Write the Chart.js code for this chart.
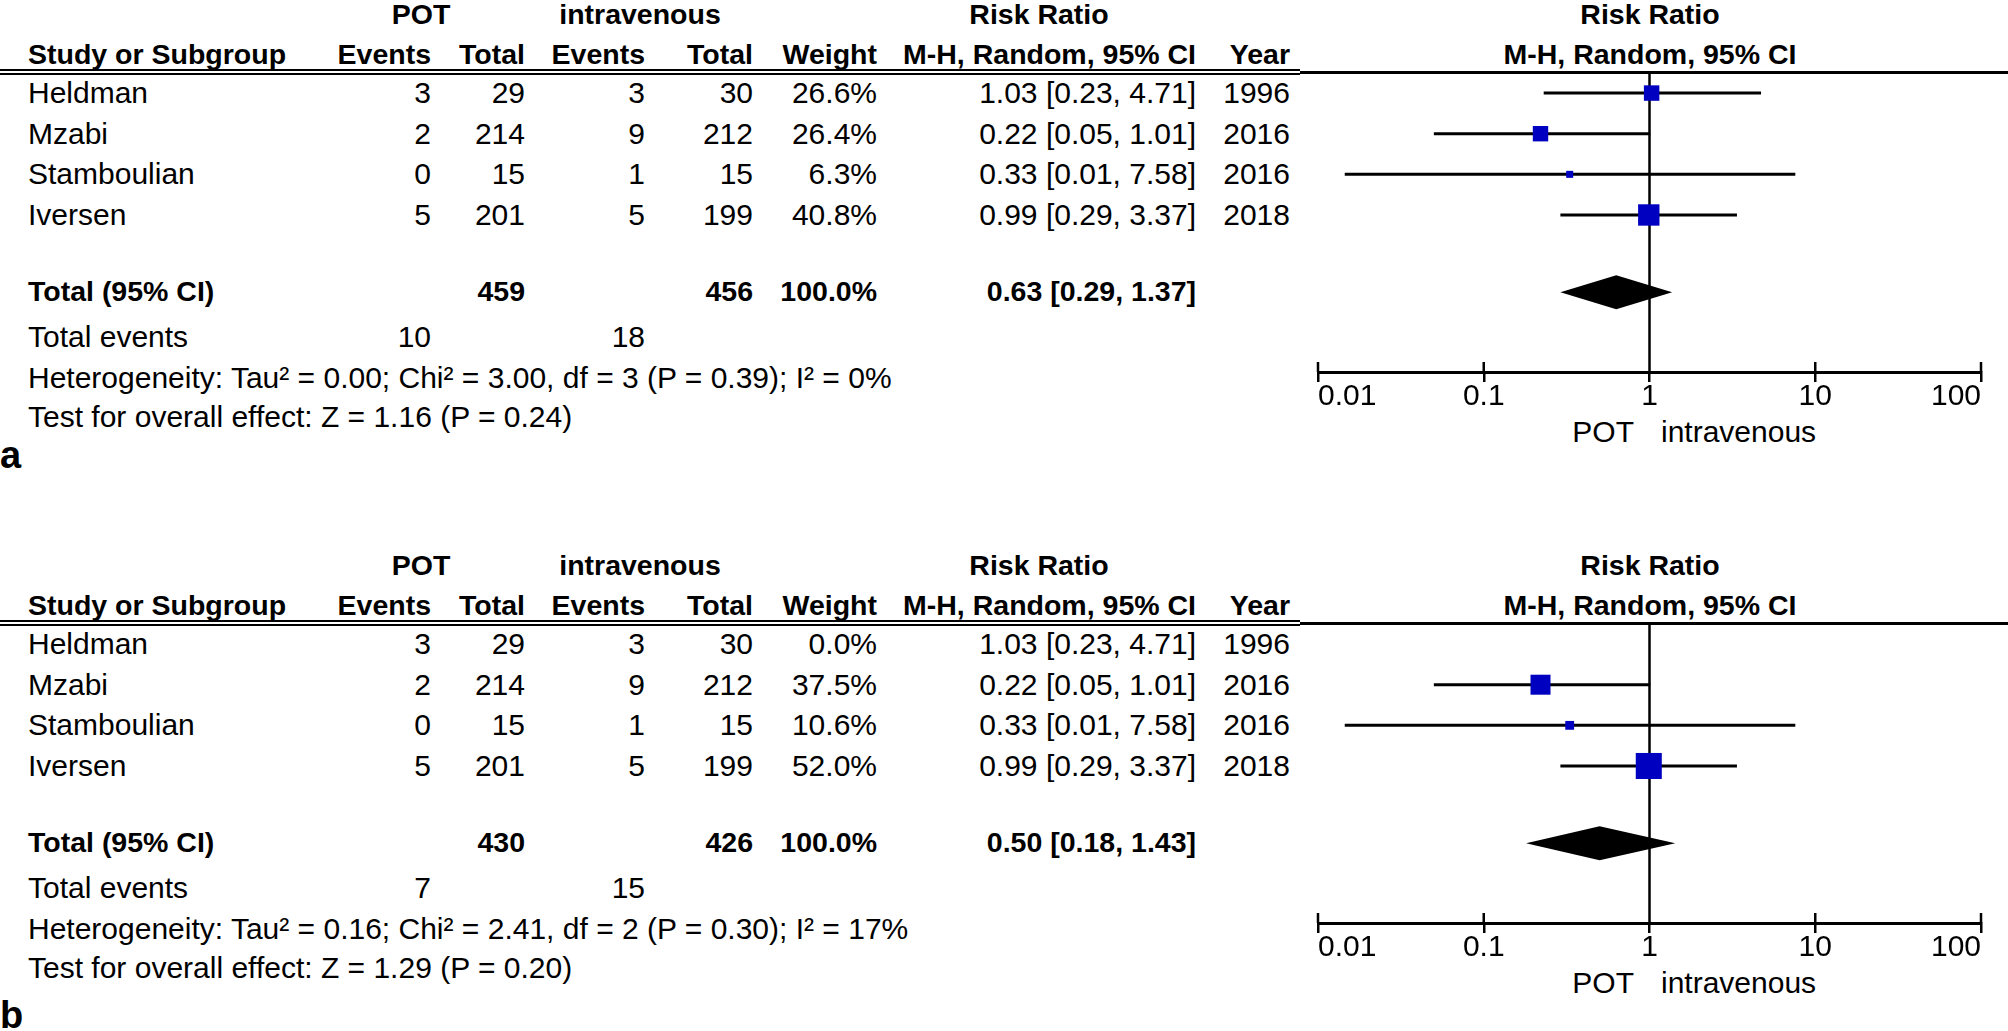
<!DOCTYPE html>
<html>
<head>
<meta charset="utf-8">
<title>Forest plots: POT vs intravenous</title>
<script src="https://cdn.jsdelivr.net/npm/chart.js@4.4.1/dist/chart.umd.min.js"></script>
<style>
  html, body { margin: 0; padding: 0; background: #fff; }
  #page {
    position: relative; width: 2008px; height: 1031px; overflow: hidden;
    font-family: "Liberation Sans", Arial, sans-serif; color: #000;
  }
  .t { position: absolute; white-space: nowrap; line-height: 1; font-size: 30px; }
  .bold { font-weight: bold; font-size: 28.5px; }
  .letter { font-weight: bold; font-size: 38px; }
  .rule { position: absolute; background: #000; }
  canvas { position: absolute; }
</style>
</head>
<body>
<div id="page"></div>
<script>
// Study data
const studies = ['Heldman', 'Mzabi', 'Stamboulian', 'Iversen'];
const potEvents = [3, 2, 0, 5];
const potTotals = [29, 214, 15, 201];
const ivEvents = [3, 9, 1, 5];
const ivTotals = [30, 212, 15, 199];
const years = [1996, 2016, 2016, 2018];

// Risk ratios as plotted (Stamboulian's lower limit sits just above 0.01 on the plot)
const rrEst = [1.03, 0.22, 0.33, 0.99];
const rrLow = [0.23, 0.05, 0.0145, 0.29];
const rrHigh = [4.71, 1.01, 7.58, 3.37];

// Weights (%) for the two analyses
const weightsA = [26.6, 26.4, 6.3, 40.8];
const weightsB = [0.0, 37.5, 10.6, 52.0];

// Pooled estimate [RR, low, high]
const pooledA = [0.63, 0.29, 1.37];
const pooledB = [0.50, 0.18, 1.43];

const hetA = 'Heterogeneity: Tau\u00B2 = 0.00; Chi\u00B2 = 3.00, df = 3 (P = 0.39); I\u00B2 = 0%';
const hetB = 'Heterogeneity: Tau\u00B2 = 0.16; Chi\u00B2 = 2.41, df = 2 (P = 0.30); I\u00B2 = 17%';
const testA = 'Test for overall effect: Z = 1.16 (P = 0.24)';
const testB = 'Test for overall effect: Z = 1.29 (P = 0.20)';

// Axis ticks
const xTicks = [0.01, 0.1, 1, 10, 100];
const xTickLabels = ['0.01', '0.1', '1', '10', '100'];

const page = document.getElementById('page');
const FONT = '"Liberation Sans", Arial, sans-serif';
const ROW0 = 93;       // first study row, px from panel top
const ROW_STEP = 40.5; // px between rows
const TOTAL_ROW = 4.9; // row slot of the pooled line

// place one piece of text; y is the vertical centre
function put(txt, x, y, align, cls) {
    const el = document.createElement('div');
    el.className = 't' + (cls ? ' ' + cls : '');
    el.textContent = txt;
    el.style.left = x + 'px';
    el.style.top = y + 'px';
    const tx = align === 'right' ? '-100%' : (align === 'center' ? '-50%' : '0');
    el.style.transform = 'translate(' + tx + ', -50%)';
    page.appendChild(el);
}

function rule(x, y, w, h) {
    const el = document.createElement('div');
    el.className = 'rule';
    el.style.left = x + 'px';
    el.style.top = y + 'px';
    el.style.width = w + 'px';
    el.style.height = h + 'px';
    page.appendChild(el);
}

function fmtCI(est, lo, hi) {
    return est.toFixed(2) + ' [' + lo.toFixed(2) + ', ' + hi.toFixed(2) + ']';
}

// draws null line, upper half of ticks and the pooled diamond
const forestExtras = {
    id: 'forestExtras',
    beforeDatasetsDraw(chart) {
        const { ctx, chartArea, scales: { x } } = chart;
        ctx.save();
        ctx.strokeStyle = '#000';
        ctx.lineWidth = 2.5;
        ctx.beginPath();
        const x1 = x.getPixelForValue(1);
        ctx.moveTo(x1, chartArea.top);
        ctx.lineTo(x1, chartArea.bottom);
        x.ticks.forEach(t => {
            const px = x.getPixelForValue(t.value);
            ctx.moveTo(px, chartArea.bottom - 10);
            ctx.lineTo(px, chartArea.bottom);
        });
        ctx.stroke();
        ctx.restore();
    },
    afterDatasetsDraw(chart, args, opts) {
        const { ctx, scales: { x, y } } = chart;
        const [est, lo, hi] = opts.pooled;
        const cy = y.getPixelForValue(opts.row);
        ctx.save();
        ctx.fillStyle = '#000';
        ctx.beginPath();
        ctx.moveTo(x.getPixelForValue(lo), cy);
        ctx.lineTo(x.getPixelForValue(est), cy - 17);
        ctx.lineTo(x.getPixelForValue(hi), cy);
        ctx.lineTo(x.getPixelForValue(est), cy + 17);
        ctx.closePath();
        ctx.fill();
        ctx.restore();
    }
};

function buildPanel(top, weights, pooled, het, test, letter, letterY) {
    const rowY = i => top + ROW0 + ROW_STEP * i;
    const included = studies.map((s, i) => i).filter(i => weights[i] > 0);

    // headers
    put('POT', 421, top + 14, 'center', 'bold');
    put('intravenous', 640, top + 14, 'center', 'bold');
    put('Risk Ratio', 1039, top + 14, 'center', 'bold');
    put('Risk Ratio', 1650, top + 14, 'center', 'bold');
    put('Study or Subgroup', 28, top + 54, 'left', 'bold');
    put('Events', 431, top + 54, 'right', 'bold');
    put('Total', 525, top + 54, 'right', 'bold');
    put('Events', 645, top + 54, 'right', 'bold');
    put('Total', 753, top + 54, 'right', 'bold');
    put('Weight', 877, top + 54, 'right', 'bold');
    put('M-H, Random, 95% CI', 1196, top + 54, 'right', 'bold');
    put('Year', 1290, top + 54, 'right', 'bold');
    put('M-H, Random, 95% CI', 1650, top + 54, 'center', 'bold');
    rule(0, top + 69, 1300, 2);
    rule(0, top + 73, 1300, 2);
    rule(1300, top + 71, 708, 2.5);

    // study rows
    studies.forEach((name, i) => {
        const y = rowY(i);
        put(name, 28, y, 'left');
        put(String(potEvents[i]), 431, y, 'right');
        put(String(potTotals[i]), 525, y, 'right');
        put(String(ivEvents[i]), 645, y, 'right');
        put(String(ivTotals[i]), 753, y, 'right');
        put(weights[i].toFixed(1) + '%', 877, y, 'right');
        put(fmtCI(rrEst[i], rrLow[i], rrHigh[i]), 1196, y, 'right');
        put(String(years[i]), 1290, y, 'right');
    });

    // totals
    const sum = arr => included.reduce((s, i) => s + arr[i], 0);
    const ty = rowY(TOTAL_ROW);
    put('Total (95% CI)', 28, ty, 'left', 'bold');
    put(String(sum(potTotals)), 525, ty, 'right', 'bold');
    put(String(sum(ivTotals)), 753, ty, 'right', 'bold');
    put('100.0%', 877, ty, 'right', 'bold');
    put(fmtCI(pooled[0], pooled[1], pooled[2]), 1196, ty, 'right', 'bold');
    put('Total events', 28, top + 337, 'left');
    put(String(sum(potEvents)), 431, top + 337, 'right');
    put(String(sum(ivEvents)), 645, top + 337, 'right');
    put(het, 28, top + 378, 'left');
    put(test, 28, top + 417, 'left');
    put(letter, 0, letterY, 'left', 'letter');
    put('POT', 1634, top + 432, 'right');
    put('intravenous', 1661, top + 432, 'left');

    // forest plot
    const canvas = document.createElement('canvas');
    canvas.width = 718;
    canvas.height = 460;
    canvas.style.left = '1290px';
    canvas.style.top = top + 'px';
    page.appendChild(canvas);

    const datasets = [{
        label: 'RR',
        data: included.map(i => ({ x: rrEst[i], y: i })),
        pointStyle: 'rect',
        pointRadius: included.map(i => (4.4 + 0.416 * weights[i]) / Math.SQRT2),
        backgroundColor: '#0000c0',
        borderWidth: 0,
        order: 0
    }];
    included.forEach(i => {
        datasets.push({
            label: studies[i] + ' CI',
            data: [{ x: rrLow[i], y: i }, { x: rrHigh[i], y: i }],
            showLine: true,
            borderColor: '#000',
            borderWidth: 3,
            pointRadius: 0,
            order: 1
        });
    });

    new Chart(canvas, {
        type: 'scatter',
        data: { datasets },
        options: {
            responsive: false,
            animation: false,
            events: [],
            layout: { padding: { left: 28, right: 27, top: 72, bottom: 48 } },
            plugins: {
                legend: { display: false },
                tooltip: { enabled: false },
                forestExtras: { pooled: pooled, row: TOTAL_ROW }
            },
            scales: {
                x: {
                    type: 'logarithmic',
                    min: 0.01,
                    max: 100,
                    afterBuildTicks: scale => { scale.ticks = xTicks.map(v => ({ value: v })); },
                    ticks: {
                        align: 'inner',
                        padding: 0,
                        color: '#000',
                        font: { family: FONT, size: 30, lineHeight: 1 },
                        callback: (v) => xTickLabels[xTicks.indexOf(v)]
                    },
                    grid: { drawOnChartArea: false, drawTicks: true, tickLength: 10, color: '#000', lineWidth: 2.5 },
                    border: { display: true, color: '#000', width: 3 }
                },
                y: {
                    type: 'linear',
                    display: false,
                    reverse: true,
                    min: (72 - ROW0) / ROW_STEP,
                    max: (371 - ROW0) / ROW_STEP
                }
            }
        },
        plugins: [forestExtras]
    });
}

buildPanel(0, weightsA, pooledA, hetA, testA, 'a', 455);
buildPanel(551, weightsB, pooledB, hetB, testB, 'b', 1015);
</script>
</body>
</html>
